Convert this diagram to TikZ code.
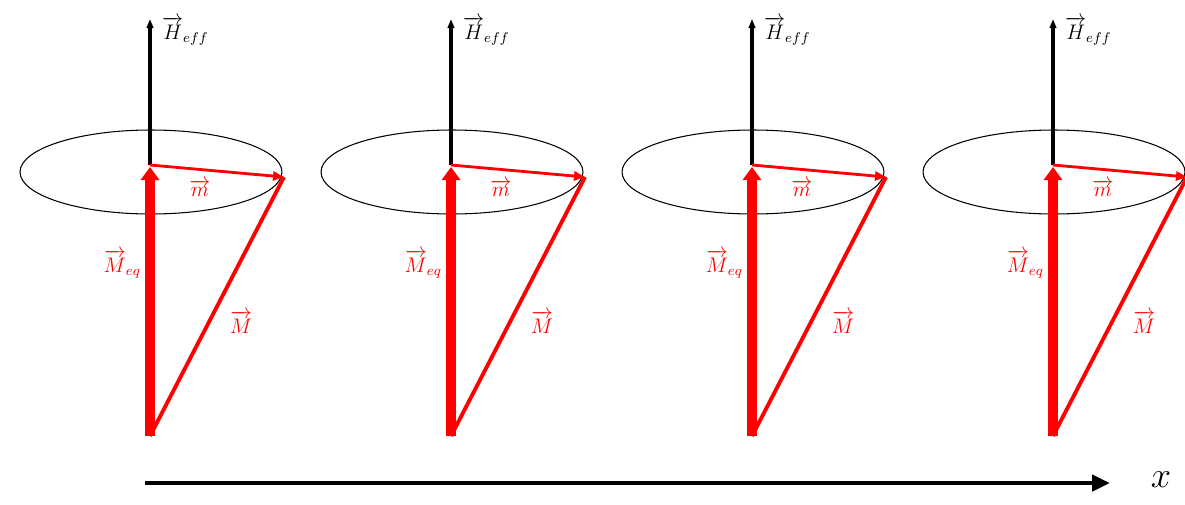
\documentclass[tikz,border=0pt]{standalone}
\usepackage{amsmath}
\usepackage{xcolor}
\usepackage{tikz}
\usetikzlibrary{arrows.meta, positioning, calc}

\tikzset{
  field/.style={line width=1.8pt, -{Triangle[length=0.18cm, width=0.13cm]}},
  meq/.style={red, line width=5.6pt, -{Triangle[length=0.26cm, width=0.36cm]}},
  small m/.style={red, line width=1.6pt, -{Triangle[length=0.22cm, width=0.18cm]}},
  big m/.style={red, line width=2.2pt},
  cone/.style={line width=0.6pt},
  lbl/.style={inner sep=1pt, font=\large},
}

\begin{document}
\begin{tikzpicture}[x=0.02cm, y=-0.02cm]
      \useasboundingbox (0,0) rectangle (1185,504);

      \foreach \i in {0,1,2,3} {
        \pgfmathsetmacro{\cx}{150+301*\i}
        \coordinate (o\i) at (\cx,165);
        \coordinate (top\i) at (\cx,19);
        \coordinate (base\i) at (\cx,436);
        \coordinate (rim\i) at (\cx+134,177);

        \draw[cone] ($(o\i)+(1,7)$) ellipse [x radius=2.62cm, y radius=0.84cm];
        \draw[field] (o\i) -- (top\i);
        \draw[small m] (o\i) -- (rim\i);
        \draw[meq] (base\i) -- ($(o\i)+(0,2)$);
        \draw[big m] (base\i) -- (rim\i);

        \node[lbl, anchor=west] (h\i) at ($(top\i)+(10,12)$) {$\overrightarrow{H}_{eff}$};
        \node[lbl, red] (m\i) at ($(o\i)+(50,23)$) {$\overrightarrow{m}$};
        \node[lbl, red, anchor=east] (meq\i) at ($(base\i)+(-7,-172)$) {$\overrightarrow{M}_{eq}$};
        \node[lbl, red] (bigm\i) at ($(base\i)+(91,-114)$) {$\overrightarrow{M}$};
      }

      % position axis
      \coordinate (xs) at (145,483);
      \coordinate (xe) at (1110,483);
      \draw[line width=2.8pt, -{Triangle[length=0.36cm, width=0.32cm]}] (xs) -- (xe);
      \node[font=\huge] (xl) at (1161,480) {$x$};
    \end{tikzpicture}
\end{document}
